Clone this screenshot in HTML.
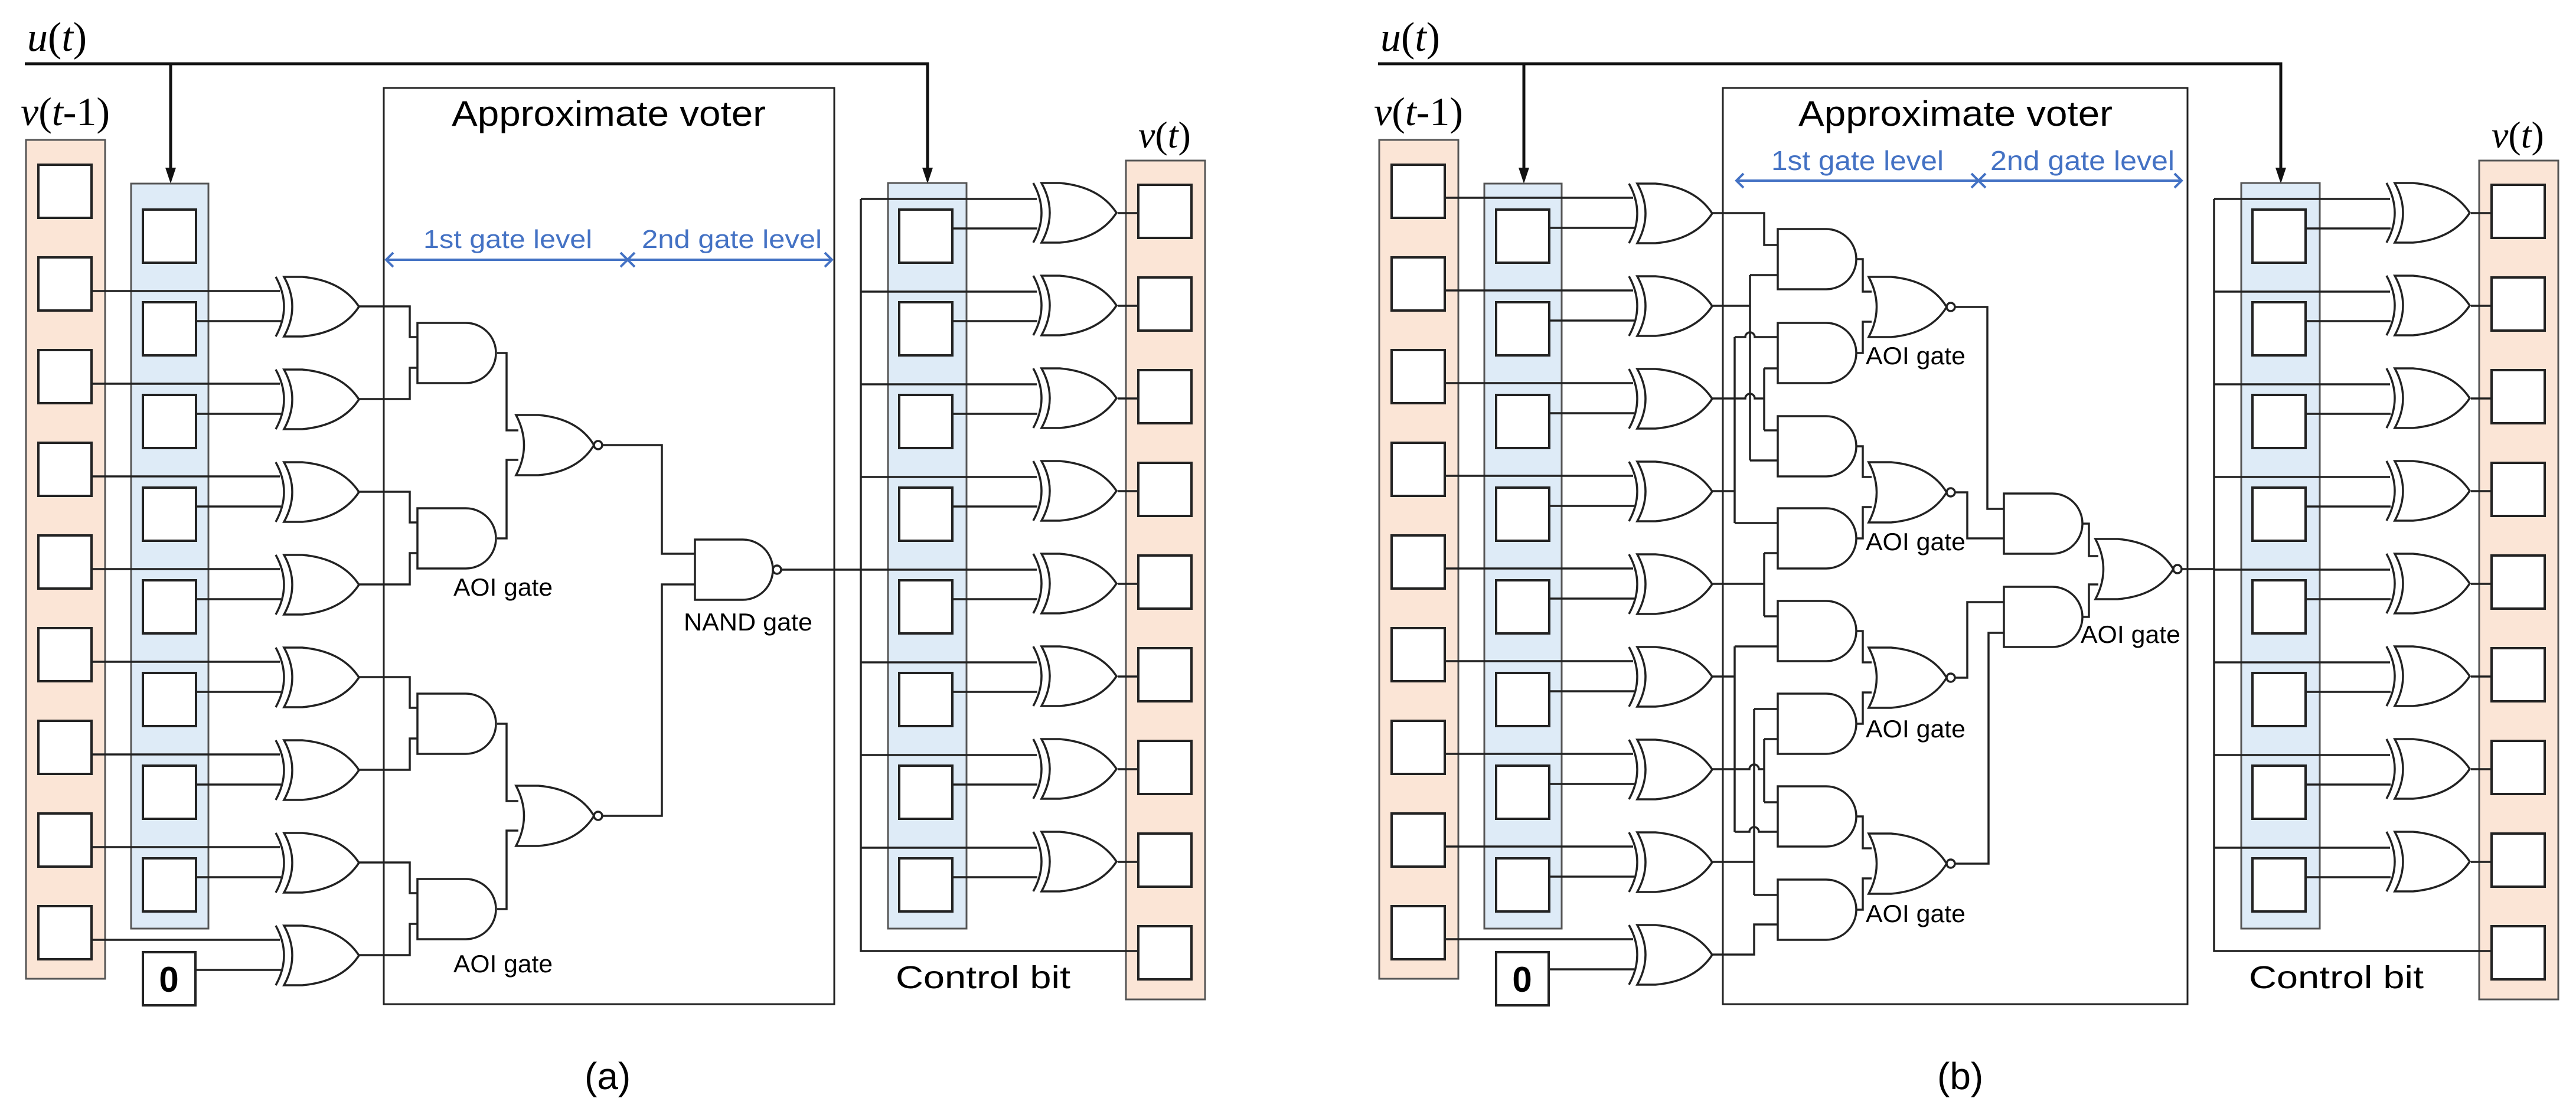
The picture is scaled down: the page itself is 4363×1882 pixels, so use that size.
<!DOCTYPE html>
<html><head><meta charset="utf-8"><style>
html,body{margin:0;padding:0;background:#fff}
svg{display:block}
text{font-family:"Liberation Sans",sans-serif}
.s{font-family:"Liberation Serif",serif}
</style></head><body>
<svg width="4363" height="1882" viewBox="0 0 4363 1882" xmlns="http://www.w3.org/2000/svg">
<defs>
<g id="xor" fill="#fff" stroke="#222" stroke-width="3.5">
<path d="M0,0 Q28,50.5 0,101" fill="none"/>
<path d="M14,0 H45 Q112,6 141,50.5 Q112,95 45,101 H14 Q42,50.5 14,0 Z"/>
</g>
<path id="and" d="M0,0 H82 A51,51 0 0 1 82,102 H0 Z" fill="#fff" stroke="#222" stroke-width="3.5"/>
<g id="nor" fill="#fff" stroke="#222" stroke-width="3.5">
<path d="M0,0 H38 Q105,6 132,51 Q105,96 38,102 H0 Q27,51 0,0 Z"/>
<circle cx="139" cy="51" r="7"/>
</g>
<g id="nand" fill="#fff" stroke="#222" stroke-width="3.5">
<path d="M0,0 H81 A51,51 0 0 1 81,102 H0 Z"/>
<circle cx="139" cy="51" r="7"/>
</g>
<g id="box9" fill="#fff" stroke="#222" stroke-width="4">
<rect x="0" y="0" width="90" height="90"/><rect x="0" y="157" width="90" height="90"/><rect x="0" y="314" width="90" height="90"/>
<rect x="0" y="471" width="90" height="90"/><rect x="0" y="628" width="90" height="90"/><rect x="0" y="785" width="90" height="90"/>
<rect x="0" y="942" width="90" height="90"/><rect x="0" y="1099" width="90" height="90"/><rect x="0" y="1256" width="90" height="90"/>
</g>
<g id="box8" fill="#fff" stroke="#222" stroke-width="4">
<rect x="0" y="0" width="90" height="90"/><rect x="0" y="157" width="90" height="90"/><rect x="0" y="314" width="90" height="90"/>
<rect x="0" y="471" width="90" height="90"/><rect x="0" y="628" width="90" height="90"/><rect x="0" y="785" width="90" height="90"/>
<rect x="0" y="942" width="90" height="90"/><rect x="0" y="1099" width="90" height="90"/>
</g>
<!-- left columns -->
<g id="leftcols">
<rect x="44" y="237" width="134" height="1421" fill="#fbe5d6" stroke="#555" stroke-width="3"/>
<use href="#box9" x="65" y="279"/>
<rect x="222" y="311" width="131" height="1262" fill="#deebf7" stroke="#555" stroke-width="3"/>
<use href="#box8" x="242" y="355"/>
<rect x="242" y="1613" width="89" height="90" fill="#fff" stroke="#222" stroke-width="4"/>
</g>
<!-- right part -->
<g id="rightpart">
<rect x="1504" y="310" width="133" height="1263" fill="#deebf7" stroke="#555" stroke-width="3"/>
<use href="#box8" x="1523" y="355"/>
<rect x="1907" y="272" width="134" height="1421" fill="#fbe5d6" stroke="#555" stroke-width="3"/>
<use href="#box9" x="1928" y="313"/>
<g fill="none" stroke="#222" stroke-width="3.5">
<path d="M1458,337 V1611 H1928"/>
<path d="M1458,337 H1756 M1458,494 H1756 M1458,651 H1756 M1458,808 H1756 M1458,965 H1756 M1458,1122 H1756 M1458,1279 H1756 M1458,1436 H1756"/>
<path d="M1614,387 H1757 M1614,544 H1757 M1614,701 H1757 M1614,858 H1757 M1614,1015 H1757 M1614,1172 H1757 M1614,1329 H1757 M1614,1486 H1757"/>
<path d="M1893,361 H1928 M1893,518 H1928 M1893,675 H1928 M1893,832 H1928 M1893,989 H1928 M1893,1146 H1928 M1893,1303 H1928 M1893,1460 H1928"/>
</g>
<use href="#xor" x="1750" y="310"/><use href="#xor" x="1750" y="467"/><use href="#xor" x="1750" y="624"/><use href="#xor" x="1750" y="781"/>
<use href="#xor" x="1750" y="938"/><use href="#xor" x="1750" y="1095"/><use href="#xor" x="1750" y="1252"/><use href="#xor" x="1750" y="1409"/>
</g>
</defs>

<!-- ================= PANEL A ================= -->
<text x="46" y="86" font-size="70" class="s"><tspan font-style="italic">u</tspan>(<tspan font-style="italic">t</tspan>)</text>
<text x="35" y="212" font-size="68" class="s"><tspan font-style="italic">v</tspan>(<tspan font-style="italic">t</tspan>-1)</text>
<path d="M42,108 H1571 V288 M289,108 V288" fill="none" stroke="#111" stroke-width="5"/>
<path d="M280,284 L298,284 L289,311 Z M1562,284 L1580,284 L1571,311 Z" fill="#111"/>

<use href="#leftcols"/>
<text x="286" y="1680" font-size="60" font-weight="bold" text-anchor="middle">0</text>

<rect x="650" y="149" width="763" height="1552" fill="none" stroke="#222" stroke-width="3"/>
<text x="1031" y="213" font-size="60" text-anchor="middle" textLength="532" lengthAdjust="spacingAndGlyphs">Approximate voter</text>
<g stroke="#4472c4" stroke-width="4" fill="none">
<path d="M654,440 H1409"/>
<path d="M666,428 L654,440 L666,452 M1051,428 L1063,440 L1051,452 M1075,428 L1063,440 L1075,452 M1397,428 L1409,440 L1397,452"/>
</g>
<text x="717" y="420" font-size="44" fill="#4472c4" textLength="286" lengthAdjust="spacingAndGlyphs">1st gate level</text>
<text x="1087" y="420" font-size="44" fill="#4472c4" textLength="305" lengthAdjust="spacingAndGlyphs">2nd gate level</text>

<g fill="none" stroke="#222" stroke-width="3.5">
<path d="M155,493 H474 M155,650 H474 M155,807 H474 M155,964 H474 M155,1121 H474 M155,1278 H474 M155,1435 H474 M155,1592 H474"/>
<path d="M331,544 H476 M331,701 H476 M331,858 H476 M331,1015 H476 M331,1172 H476 M331,1329 H476 M331,1486 H476 M331,1643 H476"/>
<path d="M608,519 H694 V571 H707 M608,676 H694 V623 H707"/>
<path d="M608,833 H694 V885 H707 M608,990 H694 V937 H707"/>
<path d="M608,1147 H694 V1199 H707 M608,1304 H694 V1251 H707"/>
<path d="M608,1461 H694 V1513 H707 M608,1618 H694 V1565 H707"/>
<path d="M842,598 H858 V729 H878 M842,912 H858 V779 H878"/>
<path d="M842,1226 H858 V1357 H878 M842,1540 H858 V1407 H878"/>
<path d="M1020,754 H1121 V938 H1177 M1020,1382 H1121 V990 H1177"/>
<path d="M1322,965 H1458"/>
</g>
<use href="#xor" x="467" y="469"/><use href="#xor" x="467" y="626"/><use href="#xor" x="467" y="783"/><use href="#xor" x="467" y="940"/>
<use href="#xor" x="467" y="1097"/><use href="#xor" x="467" y="1254"/><use href="#xor" x="467" y="1411"/><use href="#xor" x="467" y="1568"/>
<use href="#and" x="707" y="547"/><use href="#and" x="707" y="861"/><use href="#and" x="707" y="1175"/><use href="#and" x="707" y="1489"/>
<use href="#nor" x="874" y="703"/><use href="#nor" x="874" y="1331"/>
<use href="#nand" x="1177" y="914"/>
<text x="768" y="1009" font-size="42" textLength="168" lengthAdjust="spacingAndGlyphs">AOI gate</text>
<text x="768" y="1647" font-size="42" textLength="168" lengthAdjust="spacingAndGlyphs">AOI gate</text>
<text x="1158" y="1068" font-size="42" textLength="218" lengthAdjust="spacingAndGlyphs">NAND gate</text>

<use href="#rightpart"/>
<text x="1928" y="250" font-size="64" class="s"><tspan font-style="italic">v</tspan>(<tspan font-style="italic">t</tspan>)</text>
<text x="1517" y="1674" font-size="54" textLength="296" lengthAdjust="spacingAndGlyphs">Control bit</text>
<text x="990" y="1845" font-size="64">(a)</text>

<!-- ================= PANEL B ================= -->
<text x="2338" y="86" font-size="70" class="s"><tspan font-style="italic">u</tspan>(<tspan font-style="italic">t</tspan>)</text>
<text x="2327" y="212" font-size="68" class="s"><tspan font-style="italic">v</tspan>(<tspan font-style="italic">t</tspan>-1)</text>
<path d="M2334,108 H3863 V288 M2581,108 V288" fill="none" stroke="#111" stroke-width="5"/>
<path d="M2572,284 L2590,284 L2581,311 Z M3854,284 L3872,284 L3863,311 Z" fill="#111"/>

<use href="#leftcols" x="2292"/>
<text x="2578" y="1680" font-size="60" font-weight="bold" text-anchor="middle">0</text>

<rect x="2918" y="149" width="787" height="1552" fill="none" stroke="#222" stroke-width="3"/>
<text x="3312" y="213" font-size="60" text-anchor="middle" textLength="532" lengthAdjust="spacingAndGlyphs">Approximate voter</text>
<g stroke="#4472c4" stroke-width="4" fill="none">
<path d="M2941,306 H3695"/>
<path d="M2953,294 L2941,306 L2953,318 M3339,294 L3351,306 L3339,318 M3363,294 L3351,306 L3363,318 M3683,294 L3695,306 L3683,318"/>
</g>
<text x="3000" y="288" font-size="46" fill="#4472c4" textLength="292" lengthAdjust="spacingAndGlyphs">1st gate level</text>
<text x="3371" y="288" font-size="46" fill="#4472c4" textLength="312" lengthAdjust="spacingAndGlyphs">2nd gate level</text>

<g fill="none" stroke="#222" stroke-width="3.5">
<path d="M2447,335 H2766 M2447,492 H2766 M2447,649 H2766 M2447,806 H2766 M2447,963 H2766 M2447,1120 H2766 M2447,1277 H2766 M2447,1434 H2766 M2447,1591 H2766"/>
<path d="M2623,386 H2768 M2623,543 H2768 M2623,700 H2768 M2623,857 H2768 M2623,1014 H2768 M2623,1171 H2768 M2623,1328 H2768 M2623,1485 H2768 M2623,1642 H2768"/>
<!-- first-level wiring -->
<path d="M2900,361 H2988 V415 H3011"/>
<path d="M2900,518 H2964 M2964,466 V780 M2964,466 H3011 M2964,780 H3011"/>
<path d="M2900,675 H2956 a8,8 0 0 1 16,0 H2988 M2988,624 V729 M2988,624 H3011 M2988,729 H3011"/>
<path d="M2900,832 H2938 M2938,571 V886 M2938,571 H2956 a8,8 0 0 1 16,0 H3011 M2938,886 H3011"/>
<path d="M2900,989 H2988 M2988,937 V1044 M2988,937 H3011 M2988,1044 H3011"/>
<path d="M2900,1146 H2938 M2938,1095 V1409 M2938,1095 H3011 M2938,1409 H2963 a8,8 0 0 1 16,0 H3011"/>
<path d="M2900,1303 H2963 a8,8 0 0 1 16,0 H2988 M2988,1252 V1359 M2988,1252 H3011 M2988,1359 H3011"/>
<path d="M2900,1460 H2971 M2971,1201 V1516 M2971,1201 H3011 M2971,1516 H3011"/>
<path d="M2900,1617 H2971 V1566 H3011"/>
<!-- AND -> NOR -->
<path d="M3144,439 H3155 V494 H3170 M3144,598 H3155 V545 H3170"/>
<path d="M3144,756 H3155 V808 H3170 M3144,912 H3155 V859 H3170"/>
<path d="M3144,1069 H3155 V1122 H3170 M3144,1226 H3155 V1173 H3170"/>
<path d="M3144,1383 H3155 V1437 H3170 M3144,1541 H3155 V1488 H3170"/>
<!-- NOR -> 2nd level -->
<path d="M3311,520 H3366 V862 H3394"/>
<path d="M3311,834 H3332 V912 H3394"/>
<path d="M3311,1148 H3332 V1020 H3394"/>
<path d="M3311,1463 H3368 V1072 H3394"/>
<path d="M3527,887 H3538 V942 H3554 M3527,1045 H3538 V990 H3554"/>
<path d="M3695,964 H3750"/>
</g>
<use href="#xor" x="2759" y="311"/><use href="#xor" x="2759" y="468"/><use href="#xor" x="2759" y="625"/>
<use href="#xor" x="2759" y="782"/><use href="#xor" x="2759" y="939"/><use href="#xor" x="2759" y="1096"/>
<use href="#xor" x="2759" y="1253"/><use href="#xor" x="2759" y="1410"/><use href="#xor" x="2759" y="1567"/>
<use href="#and" x="3011" y="388"/><use href="#and" x="3011" y="547"/><use href="#and" x="3011" y="705"/><use href="#and" x="3011" y="861"/>
<use href="#and" x="3011" y="1018"/><use href="#and" x="3011" y="1175"/><use href="#and" x="3011" y="1332"/><use href="#and" x="3011" y="1490"/>
<use href="#nor" x="3165" y="469"/><use href="#nor" x="3165" y="783"/><use href="#nor" x="3165" y="1097"/><use href="#nor" x="3165" y="1412"/>
<use href="#and" x="3394" y="836"/><use href="#and" x="3394" y="994"/>
<use href="#nor" x="3549" y="913"/>
<text x="3160" y="617" font-size="42" textLength="169" lengthAdjust="spacingAndGlyphs">AOI gate</text>
<text x="3160" y="932" font-size="42" textLength="169" lengthAdjust="spacingAndGlyphs">AOI gate</text>
<text x="3160" y="1249" font-size="42" textLength="169" lengthAdjust="spacingAndGlyphs">AOI gate</text>
<text x="3160" y="1562" font-size="42" textLength="169" lengthAdjust="spacingAndGlyphs">AOI gate</text>
<text x="3524" y="1089" font-size="42" textLength="169" lengthAdjust="spacingAndGlyphs">AOI gate</text>

<use href="#rightpart" x="2292"/>
<text x="4220" y="250" font-size="64" class="s"><tspan font-style="italic">v</tspan>(<tspan font-style="italic">t</tspan>)</text>
<text x="3809" y="1674" font-size="54" textLength="296" lengthAdjust="spacingAndGlyphs">Control bit</text>
<text x="3281" y="1845" font-size="64">(b)</text>
</svg>
</body></html>
